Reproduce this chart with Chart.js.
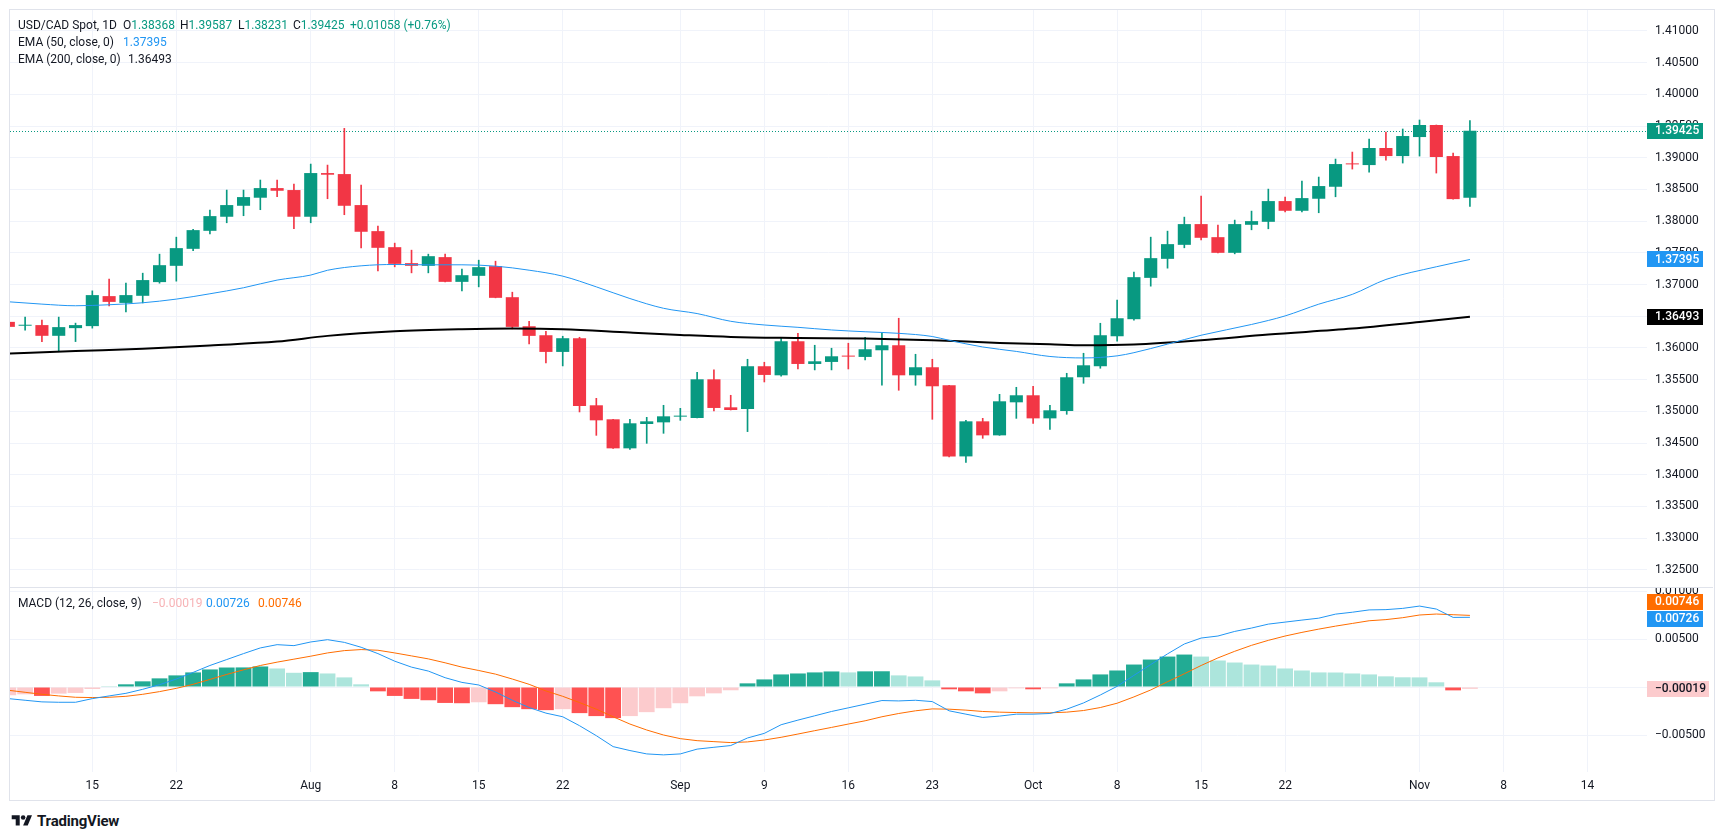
<!DOCTYPE html>
<html>
<head>
<meta charset="utf-8">
<title>USD/CAD Spot, 1D</title>
<script src="https://cdn.jsdelivr.net/npm/chart.js@4.4.1/dist/chart.umd.min.js"></script>
<style>
  body { margin: 0; width: 1723px; height: 835px; background: #fff; position: relative; overflow: hidden; font-family: Roboto, sans-serif; color: #131722; }
  #frame { position: absolute; left: 9px; top: 9px; width: 1706px; height: 792px; border: 1px solid #e0e3eb; box-sizing: border-box; }
  #mainWrap { position: absolute; left: 10px; top: 10px; width: 1703px; height: 577px; }
  #sep { position: absolute; left: 10px; top: 587px; width: 1703px; height: 1px; background: #e0e3eb; }
  #macdWrap { position: absolute; left: 10px; top: 588px; width: 1703px; height: 211px; }
  .lg { position: absolute; font-size: 12px; line-height: 14px; white-space: nowrap; }
  .g { color: #089981; }
  .b { color: #2196f3; }
  .o { color: #ff6d00; }
  .p { color: #f7b3b6; }
  #logo { position: absolute; left: 11px; top: 812px; display: flex; align-items: center; gap: 4px; font-size: 15px; font-weight: 700; letter-spacing: -0.2px; }
</style>
</head>
<body>
<div id="frame"></div>
<div id="mainWrap"><canvas id="mainChart" width="1703" height="577"></canvas></div>
<div id="sep"></div>
<div id="macdWrap"><canvas id="macdChart" width="1703" height="211"></canvas></div>

<div class="lg" style="left:18px;top:18px">USD/CAD Spot, 1D</div>
<div class="lg" style="left:123px;top:18px">O<span class="g">1.38368</span></div>
<div class="lg" style="left:180px;top:18px">H<span class="g">1.39587</span></div>
<div class="lg" style="left:238px;top:18px">L<span class="g">1.38231</span></div>
<div class="lg" style="left:293px;top:18px">C<span class="g">1.39425</span></div>
<div class="lg g" style="left:350px;top:18px">+0.01058 (+0.76%)</div>
<div class="lg" style="left:18px;top:35px">EMA (50, close, 0)</div>
<div class="lg b" style="left:123px;top:35px">1.37395</div>
<div class="lg" style="left:18px;top:52px">EMA (200, close, 0)</div>
<div class="lg" style="left:128px;top:52px">1.36493</div>
<div class="lg" style="left:18px;top:596px">MACD (12, 26, close, 9)</div>
<div class="lg p" style="left:152px;top:596px">−0.00019</div>
<div class="lg b" style="left:206px;top:596px">0.00726</div>
<div class="lg o" style="left:258px;top:596px">0.00746</div>

<div id="logo">
  <svg width="22" height="16" viewBox="0 0 36 28"><path d="M14 22H7V11H0V4h14v18z" fill="#131722"/><circle cx="20" cy="8" r="4" fill="#131722"/><path d="M28 22h-8l7.5-18h8L28 22z" fill="#131722"/></svg>
  <span>TradingView</span>
</div>

<script>
// time axis: bar index -> label (Jul 8 2024 = bar 0)
const tickIdx = [5, 10, 18, 23, 28, 33, 40, 45, 50, 55, 61, 66, 71, 76, 84, 89, 94];
const tickText = ["15", "22", "Aug", "8", "15", "22", "Sep", "9", "16", "23", "Oct", "8", "15", "22", "Nov", "8", "14"];

// daily candles, Jul 8 .. Nov 6
const opens = [
  1.36411, 1.36350, 1.36360, 1.36191, 1.36312, 1.36344, 1.36817, 1.36710, 1.36822, 1.37038,
  1.37295, 1.37563, 1.37847, 1.38069, 1.38242, 1.38369, 1.38521, 1.38490, 1.38069, 1.38758,
  1.38742, 1.38253, 1.37842, 1.37589, 1.37337, 1.37295, 1.37432, 1.37042, 1.37137, 1.37290,
  1.36800, 1.36342, 1.36200, 1.35937, 1.36153, 1.35095, 1.34874, 1.34416, 1.34800, 1.34826,
  1.34916, 1.34895, 1.35505, 1.35063, 1.35037, 1.35711, 1.35568, 1.36105, 1.35747, 1.35779,
  1.35874, 1.35858, 1.35963, 1.36042, 1.35568, 1.35695, 1.35411, 1.34289, 1.34842, 1.34621,
  1.35142, 1.35253, 1.34889, 1.35005, 1.35537, 1.35711, 1.36184, 1.36453, 1.37105, 1.37405,
  1.37626, 1.37953, 1.37747, 1.37500, 1.37942, 1.37989, 1.38316, 1.38163, 1.38353, 1.38542,
  1.38905, 1.38884, 1.39153, 1.39026, 1.39326, 1.39516, 1.39026, 1.38368
];
const highs = [
  1.36450, 1.36486, 1.36439, 1.36486, 1.36391, 1.36900, 1.37084, 1.37021, 1.37179, 1.37479,
  1.37747, 1.37870, 1.38174, 1.38490, 1.38490, 1.38648, 1.38648, 1.38584, 1.38900, 1.38884,
  1.39463, 1.38568, 1.37921, 1.37653, 1.37542, 1.37479, 1.37479, 1.37242, 1.37384, 1.37368,
  1.36879, 1.36421, 1.36263, 1.36184, 1.36168, 1.35205, 1.34874, 1.34874, 1.34905, 1.35095,
  1.35047, 1.35616, 1.35653, 1.35253, 1.35821, 1.35774, 1.36153, 1.36232, 1.36042, 1.35995,
  1.36074, 1.36168, 1.36237, 1.36468, 1.35900, 1.35821, 1.35411, 1.34858, 1.34889, 1.35268,
  1.35379, 1.35395, 1.35095, 1.35600, 1.35916, 1.36389, 1.36753, 1.37195, 1.37747, 1.37842,
  1.38063, 1.38395, 1.37937, 1.38016, 1.38158, 1.38505, 1.38379, 1.38632, 1.38695, 1.38979,
  1.39089, 1.39295, 1.39405, 1.39453, 1.39595, 1.39516, 1.39074, 1.39587
];
const lows = [
  1.36300, 1.36281, 1.36100, 1.35940, 1.36100, 1.36312, 1.36663, 1.36568, 1.36710, 1.37021,
  1.37053, 1.37532, 1.37800, 1.37974, 1.38085, 1.38180, 1.38385, 1.37879, 1.37974, 1.38353,
  1.38101, 1.37579, 1.37216, 1.37279, 1.37184, 1.37184, 1.37042, 1.36900, 1.36963, 1.36790,
  1.36300, 1.36063, 1.35763, 1.35716, 1.34990, 1.34621, 1.34416, 1.34400, 1.34495, 1.34653,
  1.34858, 1.34895, 1.35005, 1.35021, 1.34680, 1.35463, 1.35553, 1.35668, 1.35653, 1.35653,
  1.35668, 1.35811, 1.35411, 1.35332, 1.35411, 1.34874, 1.34280, 1.34195, 1.34574, 1.34621,
  1.34889, 1.34811, 1.34716, 1.34953, 1.35442, 1.35679, 1.36105, 1.36437, 1.36974, 1.37258,
  1.37579, 1.37705, 1.37500, 1.37484, 1.37863, 1.37879, 1.38147, 1.38147, 1.38132, 1.38384,
  1.38821, 1.38774, 1.38963, 1.38916, 1.39026, 1.38758, 1.38347, 1.38231
];
const closes = [
  1.36332, 1.36356, 1.36191, 1.36328, 1.36360, 1.36833, 1.36726, 1.36833, 1.37070, 1.37305,
  1.37574, 1.37858, 1.38079, 1.38253, 1.38379, 1.38521, 1.38479, 1.38069, 1.38758, 1.38732,
  1.38242, 1.37832, 1.37579, 1.37326, 1.37295, 1.37447, 1.37042, 1.37147, 1.37274, 1.36790,
  1.36332, 1.36190, 1.35937, 1.36153, 1.35084, 1.34858, 1.34416, 1.34811, 1.34842, 1.34921,
  1.34926, 1.35505, 1.35053, 1.35021, 1.35711, 1.35574, 1.36105, 1.35747, 1.35789, 1.35868,
  1.35863, 1.35979, 1.36042, 1.35568, 1.35695, 1.35395, 1.34289, 1.34842, 1.34621, 1.35158,
  1.35253, 1.34889, 1.35016, 1.35537, 1.35726, 1.36200, 1.36468, 1.37116, 1.37416, 1.37637,
  1.37953, 1.37737, 1.37500, 1.37953, 1.38000, 1.38316, 1.38163, 1.38363, 1.38553, 1.38900,
  1.38895, 1.39153, 1.39026, 1.39342, 1.39516, 1.39011, 1.38347, 1.39425
];

// moving averages at these bar positions
const ema50Idx = [0, 2, 4, 6, 8, 10, 12, 14, 16, 18, 19, 21, 23, 25, 27, 29, 31, 33, 35, 37, 39, 41, 43, 45, 47, 49, 51, 53, 55, 56, 58, 60, 62, 64, 66, 67, 69, 71, 74, 76, 78, 80, 82, 85, 87];
const ema50 = [1.36728, 1.36691, 1.36665, 1.36681, 1.36712, 1.36770, 1.36854, 1.36949, 1.37070, 1.37149, 1.37225, 1.37295, 1.37316, 1.37311, 1.37311, 1.37290, 1.37226, 1.37132, 1.36963, 1.36779, 1.36625, 1.36542, 1.36420, 1.36362, 1.36325, 1.36283, 1.36255, 1.36230, 1.36180, 1.36120, 1.36015, 1.35945, 1.35865, 1.35842, 1.35875, 1.35925, 1.36060, 1.36200, 1.36370, 1.36505, 1.36690, 1.36845, 1.37080, 1.37280, 1.37395];
const ema200Idx = [0, 4, 8, 12, 16, 19, 23, 27, 30, 33, 37, 40, 43, 47, 51, 55, 59, 62, 64, 67, 71, 75, 80, 84, 87];
const ema200 = [1.35910, 1.35950, 1.35985, 1.36040, 1.36100, 1.36190, 1.36263, 1.36295, 1.36305, 1.36295, 1.36242, 1.36205, 1.36174, 1.36158, 1.36147, 1.36121, 1.36079, 1.36058, 1.36042, 1.36053, 1.36120, 1.36211, 1.36305, 1.36410, 1.36493];

// MACD (12, 26, 9)
const macdLine = [
  -0.00121, -0.00138, -0.00155, -0.00159, -0.00159, -0.00121, -0.00093, -0.00066, -0.00024, 0.00024,
  0.00083, 0.00152, 0.00224, 0.00286, 0.00348, 0.00407, 0.00441, 0.00431, 0.00469, 0.00493,
  0.00465, 0.00414, 0.00348, 0.00269, 0.00207, 0.00166, 0.00097, 0.00048, 0.00021, -0.00052,
  -0.00138, -0.00214, -0.00272, -0.00310, -0.00403, -0.00507, -0.00621, -0.00662, -0.00697, -0.00707,
  -0.00697, -0.00647, -0.00628, -0.00610, -0.00531, -0.00483, -0.00393, -0.00345, -0.00300, -0.00255,
  -0.00217, -0.00179, -0.00141, -0.00145, -0.00138, -0.00152, -0.00248, -0.00283, -0.00317, -0.00303,
  -0.00283, -0.00283, -0.00276, -0.00231, -0.00166, -0.00083, 0.00007, 0.00121, 0.00234, 0.00345,
  0.00448, 0.00510, 0.00531, 0.00579, 0.00614, 0.00655, 0.00676, 0.00697, 0.00717, 0.00759,
  0.00779, 0.00803, 0.00806, 0.00819, 0.00843, 0.00812, 0.00725, 0.00726
];
const signalLine = [
  -0.00034, -0.00055, -0.00076, -0.00093, -0.00107, -0.00110, -0.00107, -0.00097, -0.00076, -0.00048,
  -0.00014, 0.00028, 0.00079, 0.00131, 0.00179, 0.00224, 0.00259, 0.00290, 0.00321, 0.00355,
  0.00379, 0.00390, 0.00383, 0.00355, 0.00324, 0.00293, 0.00252, 0.00207, 0.00172, 0.00134,
  0.00083, 0.00028, -0.00041, -0.00097, -0.00162, -0.00231, -0.00310, -0.00386, -0.00448, -0.00500,
  -0.00538, -0.00559, -0.00569, -0.00579, -0.00572, -0.00552, -0.00524, -0.00490, -0.00455, -0.00421,
  -0.00386, -0.00352, -0.00310, -0.00276, -0.00248, -0.00228, -0.00231, -0.00241, -0.00255, -0.00262,
  -0.00266, -0.00269, -0.00269, -0.00262, -0.00245, -0.00214, -0.00169, -0.00103, -0.00031, 0.00055,
  0.00138, 0.00224, 0.00303, 0.00372, 0.00434, 0.00486, 0.00531, 0.00569, 0.00603, 0.00634,
  0.00662, 0.00690, 0.00702, 0.00722, 0.00750, 0.00760, 0.00753, 0.00746
];
const histogram = [
  -0.00086, -0.00076, -0.00093, -0.00069, -0.00062, -0.00021, 0.00007, 0.00028, 0.00059, 0.00090,
  0.00121, 0.00152, 0.00183, 0.00203, 0.00204, 0.00214, 0.00193, 0.00148, 0.00155, 0.00141,
  0.00100, 0.00028, -0.00045, -0.00093, -0.00124, -0.00138, -0.00166, -0.00169, -0.00159, -0.00179,
  -0.00210, -0.00231, -0.00241, -0.00231, -0.00272, -0.00303, -0.00324, -0.00303, -0.00262, -0.00221,
  -0.00169, -0.00097, -0.00066, -0.00034, 0.00038, 0.00079, 0.00131, 0.00141, 0.00152, 0.00162,
  0.00152, 0.00163, 0.00164, 0.00121, 0.00110, 0.00069, -0.00024, -0.00045, -0.00066, -0.00045,
  -0.00014, -0.00024, -0.00014, 0.00038, 0.00079, 0.00131, 0.00172, 0.00234, 0.00286, 0.00317,
  0.00338, 0.00317, 0.00276, 0.00255, 0.00234, 0.00224, 0.00193, 0.00172, 0.00152, 0.00151,
  0.00141, 0.00131, 0.00111, 0.00101, 0.00100, 0.00049, -0.00035, -0.00019
];

const UP = "#089981";
const DOWN = "#f23645";
const GRID = "#f0f3fa";
const X_MIN = 0.1;
const X_MAX = 97.54;

Chart.defaults.font.family = "Roboto";
Chart.defaults.font.size = 12;
Chart.defaults.color = "#131722";

function fmt5(v) {
  return (v < 0 ? "\u2212" : "") + Math.abs(v).toFixed(5);
}

function candleColor(i) {
  return closes[i] >= opens[i] ? UP : DOWN;
}

function histColor(i) {
  const v = histogram[i];
  const prev = i > 0 ? histogram[i - 1] : -Infinity;
  if (v >= 0) return v >= prev ? "#22ab94" : "#ace5dc";
  return v < prev ? "#ff5252" : "#fccbcd";
}

function drawBox(ctx, x, cy, w, bg, fg, text) {
  ctx.fillStyle = bg;
  ctx.fillRect(x, Math.round(cy - 8), w, 16);
  ctx.fillStyle = fg;
  ctx.font = "500 12px Roboto";
  ctx.textAlign = "left";
  ctx.textBaseline = "middle";
  ctx.fillText(text, x + 8, cy + 0.5);
}

function xAxis(showLabels) {
  return {
    type: "linear",
    min: X_MIN,
    max: X_MAX,
    offset: false,
    afterBuildTicks: (axis) => {
      axis.ticks = tickIdx.map((v) => ({ value: v }));
    },
    afterFit: (axis) => {
      axis.height = showLabels ? 27 : 0;
      axis.paddingLeft = 0;
      axis.paddingRight = 0;
    },
    ticks: {
      display: showLabels,
      autoSkip: false,
      maxRotation: 0,
      padding: 7,
      font: { size: 12 },
      callback: (v) => tickText[tickIdx.indexOf(v)] || "",
    },
    grid: { color: GRID, drawTicks: false, offset: false },
    border: { display: false },
  };
}

function yAxis(min, max, values, fmt) {
  return {
    position: "right",
    min: min,
    max: max,
    afterBuildTicks: (axis) => {
      axis.ticks = values.map((v) => ({ value: v }));
    },
    afterFit: (axis) => {
      axis.width = 66;
      axis.paddingTop = 0;
      axis.paddingBottom = 0;
    },
    ticks: { padding: 8, font: { size: 12 }, callback: (v) => fmt(v) },
    grid: { color: GRID, drawTicks: false },
    border: { display: false },
  };
}

// price ticks every 0.005
const priceTicks = [];
for (let k = 0; k <= 17; k++) priceTicks.push((1325 + 5 * k) / 1000);

const lastPrice = {
  id: "lastPrice",
  beforeDatasetsDraw(chart) {
    const { ctx, chartArea } = chart;
    const py = Math.round(chart.scales.y.getPixelForValue(closes[closes.length - 1])) + 0.5;
    ctx.save();
    ctx.strokeStyle = UP;
    ctx.lineWidth = 1;
    ctx.setLineDash([1, 2]);
    ctx.beginPath();
    ctx.moveTo(chartArea.left, py);
    ctx.lineTo(chartArea.right, py);
    ctx.stroke();
    ctx.restore();
  },
  afterDraw(chart) {
    const { ctx, chartArea } = chart;
    const y = chart.scales.y;
    const c = closes[closes.length - 1];
    const e50 = ema50[ema50.length - 1];
    const e200 = ema200[ema200.length - 1];
    ctx.save();
    drawBox(ctx, chartArea.right, y.getPixelForValue(c), 56, UP, "#ffffff", c.toFixed(5));
    drawBox(ctx, chartArea.right, y.getPixelForValue(e50), 56, "#2196f3", "#ffffff", e50.toFixed(5));
    drawBox(ctx, chartArea.right, y.getPixelForValue(e200), 56, "#000000", "#ffffff", e200.toFixed(5));
    ctx.restore();
  },
};

const macdBoxes = {
  id: "macdBoxes",
  afterDraw(chart) {
    const { ctx, chartArea } = chart;
    const y = chart.scales.y;
    const m = macdLine[macdLine.length - 1];
    const s = signalLine[signalLine.length - 1];
    const h = histogram[histogram.length - 1];
    const my = y.getPixelForValue(m) + 1.5;
    const sy = Math.min(y.getPixelForValue(s), my - 17);
    ctx.save();
    drawBox(ctx, chartArea.right, my, 56, "#2196f3", "#ffffff", fmt5(m));
    drawBox(ctx, chartArea.right, sy, 56, "#ff6d00", "#ffffff", fmt5(s));
    drawBox(ctx, chartArea.right, y.getPixelForValue(h), 62, "#fccbcd", "#131722", fmt5(h));
    ctx.restore();
  },
};

// main price pane
new Chart(document.getElementById("mainChart"), {
  type: "line",
  data: {
    datasets: [
      {
        type: "line",
        data: ema50Idx.map((x, i) => ({ x: x, y: ema50[i] })),
        borderColor: "#2196f3",
        borderWidth: 1,
        pointRadius: 0,
        cubicInterpolationMode: "monotone",
      },
      {
        type: "line",
        data: ema200Idx.map((x, i) => ({ x: x, y: ema200[i] })),
        borderColor: "#000000",
        borderWidth: 2,
        pointRadius: 0,
        cubicInterpolationMode: "monotone",
      },
      {
        type: "bar",
        data: opens.map((o, i) => ({ x: i, y: [o, closes[i]] })),
        backgroundColor: opens.map((o, i) => candleColor(i)),
        categoryPercentage: 1,
        barPercentage: 0.78,
        minBarLength: 1,
        grouped: false,
      },
      {
        type: "bar",
        data: lows.map((l, i) => ({ x: i, y: [l, highs[i]] })),
        backgroundColor: lows.map((l, i) => candleColor(i)),
        barThickness: 1,
        grouped: false,
      },
    ],
  },
  options: {
    responsive: false,
    animation: false,
    devicePixelRatio: 1,
    layout: { padding: 0 },
    plugins: { legend: { display: false }, tooltip: { enabled: false } },
    scales: {
      x: xAxis(false),
      y: yAxis(1.32229, 1.4133, priceTicks, (v) => v.toFixed(5)),
    },
  },
  plugins: [lastPrice],
});

// MACD pane
new Chart(document.getElementById("macdChart"), {
  type: "line",
  data: {
    datasets: [
      {
        type: "line",
        data: macdLine.map((v, i) => ({ x: i, y: v })),
        borderColor: "#2196f3",
        borderWidth: 1,
        pointRadius: 0,
      },
      {
        type: "line",
        data: signalLine.map((v, i) => ({ x: i, y: v })),
        borderColor: "#ff6d00",
        borderWidth: 1,
        pointRadius: 0,
      },
      {
        type: "bar",
        data: histogram.map((v, i) => ({ x: i, y: v })),
        backgroundColor: histogram.map((v, i) => histColor(i)),
        categoryPercentage: 1,
        barPercentage: 0.94,
        grouped: false,
      },
    ],
  },
  options: {
    responsive: false,
    animation: false,
    devicePixelRatio: 1,
    layout: { padding: 0 },
    plugins: { legend: { display: false }, tooltip: { enabled: false } },
    scales: {
      x: xAxis(true),
      y: yAxis(-0.008854, 0.010313, [-0.005, 0, 0.005, 0.01], fmt5),
    },
  },
  plugins: [macdBoxes],
});
</script>
</body>
</html>
